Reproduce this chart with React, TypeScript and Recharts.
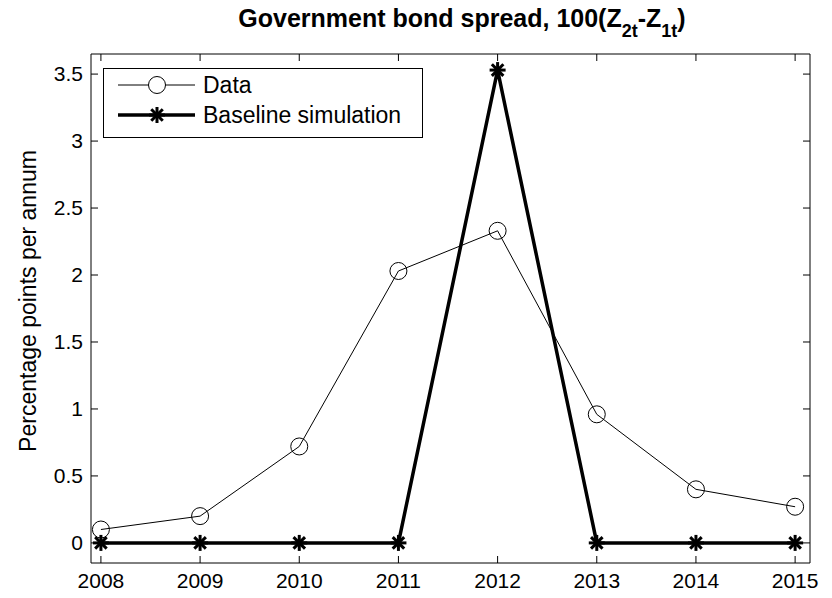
import React from "react";
import { LineChart, Line, XAxis, YAxis } from "recharts";

// values
const years = [2008, 2009, 2010, 2011, 2012, 2013, 2014, 2015];
const dataSpread = [0.1, 0.2, 0.72, 2.03, 2.33, 0.96, 0.4, 0.27];
const baselineSpread = [0, 0, 0, 0, 3.53, 0, 0, 0];
const yTicks = [0, 0.5, 1, 1.5, 2, 2.5, 3, 3.5];

const chartData = years.map((year, i) => ({
  year,
  data: dataSpread[i],
  baseline: baselineSpread[i],
}));

const FONT = "'Liberation Sans', Arial, Helvetica, sans-serif";
const TICK_LEN = 7;

function Asterisk({ cx, cy, r = 8, sw = 3 }: { cx: number; cy: number; r?: number; sw?: number }) {
  const d = r * 0.72;
  return (
    <g stroke="#000" strokeWidth={sw} strokeLinecap="butt">
      <line x1={cx} y1={cy - r} x2={cx} y2={cy + r} />
      <line x1={cx - r} y1={cy} x2={cx + r} y2={cy} />
      <line x1={cx - d} y1={cy - d} x2={cx + d} y2={cy + d} />
      <line x1={cx - d} y1={cy + d} x2={cx + d} y2={cy - d} />
    </g>
  );
}

const CircleDot = (props: any) => {
  const { cx, cy, index } = props;
  if (cx == null || cy == null) return <g key={index} />;
  return <circle key={index} cx={cx} cy={cy} r={8.5} fill="none" stroke="#000" strokeWidth={1} />;
};

const StarDot = (props: any) => {
  const { cx, cy, index } = props;
  if (cx == null || cy == null) return <g key={index} />;
  return (
    <g key={index}>
      <Asterisk cx={cx} cy={cy} />
    </g>
  );
};

const BottomTick = (props: any) => {
  const { x, y, payload } = props;
  return (
    <g>
      <line x1={x} y1={y} x2={x} y2={y - TICK_LEN} stroke="#000" strokeWidth={1} />
      <text x={x} y={y + 25} textAnchor="middle" fontSize={21} fontFamily={FONT} fill="#000">
        {payload.value}
      </text>
    </g>
  );
};

const TopTick = (props: any) => {
  const { x, y } = props;
  return <line x1={x} y1={y} x2={x} y2={y + TICK_LEN} stroke="#000" strokeWidth={1} />;
};

const LeftTick = (props: any) => {
  const { x, y, payload } = props;
  return (
    <g>
      <line x1={x} y1={y} x2={x + TICK_LEN} y2={y} stroke="#000" strokeWidth={1} />
      <text x={x - 8} y={y} dy="0.35em" textAnchor="end" fontSize={21} fontFamily={FONT} fill="#000">
        {payload.value}
      </text>
    </g>
  );
};

const RightTick = (props: any) => {
  const { x, y } = props;
  return <line x1={x - TICK_LEN} y1={y} x2={x} y2={y} stroke="#000" strokeWidth={1} />;
};

const axisLine = { stroke: "#000", strokeWidth: 1 };

export default function App() {
  const xDomain: [number, number] = [2007.9, 2015.15];
  const yDomain: [number, number] = [-0.15, 3.65];

  return (
    <div style={{ position: "absolute", left: 0, top: 0, width: 832, height: 598, background: "#fff" }}>
      <LineChart
        width={832}
        height={598}
        data={chartData}
        margin={{ top: 44, right: 12, bottom: 5, left: 11 }}
      >
        <XAxis
          xAxisId="b"
          dataKey="year"
          type="number"
          domain={xDomain}
          ticks={years}
          allowDataOverflow
          height={30}
          tickSize={0}
          tickMargin={0}
          tickLine={false}
          tick={<BottomTick />}
          axisLine={axisLine}
          interval={0}
        />
        <XAxis
          xAxisId="t"
          orientation="top"
          dataKey="year"
          type="number"
          domain={xDomain}
          ticks={years}
          allowDataOverflow
          height={10}
          tickSize={0}
          tickMargin={0}
          tickLine={false}
          tick={<TopTick />}
          axisLine={axisLine}
          interval={0}
        />
        <YAxis
          yAxisId="l"
          type="number"
          domain={yDomain}
          ticks={yTicks}
          allowDataOverflow
          width={80}
          tickSize={0}
          tickMargin={0}
          tickLine={false}
          tick={<LeftTick />}
          axisLine={axisLine}
          interval={0}
        />
        <YAxis
          yAxisId="r"
          orientation="right"
          type="number"
          domain={yDomain}
          ticks={yTicks}
          allowDataOverflow
          width={10}
          tickSize={0}
          tickMargin={0}
          tickLine={false}
          tick={<RightTick />}
          axisLine={axisLine}
          interval={0}
        />
        {/* hidden series so the top/right box axes share the same scales */}
        <Line
          xAxisId="t"
          yAxisId="r"
          dataKey="data"
          stroke="none"
          dot={false}
          activeDot={false}
          legendType="none"
          isAnimationActive={false}
        />
        <Line
          xAxisId="b"
          yAxisId="l"
          type="linear"
          dataKey="data"
          stroke="#000"
          strokeWidth={1}
          dot={<CircleDot />}
          activeDot={false}
          name="Data"
          isAnimationActive={false}
        />
        <Line
          xAxisId="b"
          yAxisId="l"
          type="linear"
          dataKey="baseline"
          stroke="#000"
          strokeWidth={3.5}
          dot={<StarDot />}
          activeDot={false}
          name="Baseline simulation"
          isAnimationActive={false}
        />
      </LineChart>

      <svg
        width={832}
        height={598}
        style={{ position: "absolute", left: 0, top: 0, pointerEvents: "none" }}
      >
        <text x={462} y={27} textAnchor="middle" fontSize={25} fontWeight="bold" fontFamily={FONT} fill="#000">
          Government bond spread, 100(Z
          <tspan dy={10} fontSize={18}>2t</tspan>
          <tspan dy={-10}>-Z</tspan>
          <tspan dy={10} fontSize={18}>1t</tspan>
          <tspan dy={-10}>)</tspan>
        </text>
        <text
          x={36}
          y={301}
          transform="rotate(-90, 36, 301)"
          textAnchor="middle"
          fontSize={23}
          fontFamily={FONT}
          fill="#000"
        >
          Percentage points per annum
        </text>

        {/* legend */}
        <rect x={103.5} y={68.5} width={319} height={69} fill="#fff" stroke="#000" strokeWidth={1} />
        <line x1={118} y1={85} x2={195} y2={85} stroke="#000" strokeWidth={1} />
        <circle cx={157} cy={85} r={8.5} fill="#fff" stroke="#000" strokeWidth={1} />
        <text x={203} y={85} dy="0.35em" fontSize={23} fontFamily={FONT} fill="#000">
          Data
        </text>
        <line x1={118} y1={115} x2={195} y2={115} stroke="#000" strokeWidth={3.5} />
        <Asterisk cx={157} cy={115} />
        <text x={203} y={115} dy="0.35em" fontSize={23} fontFamily={FONT} fill="#000">
          Baseline simulation
        </text>
      </svg>
    </div>
  );
}
